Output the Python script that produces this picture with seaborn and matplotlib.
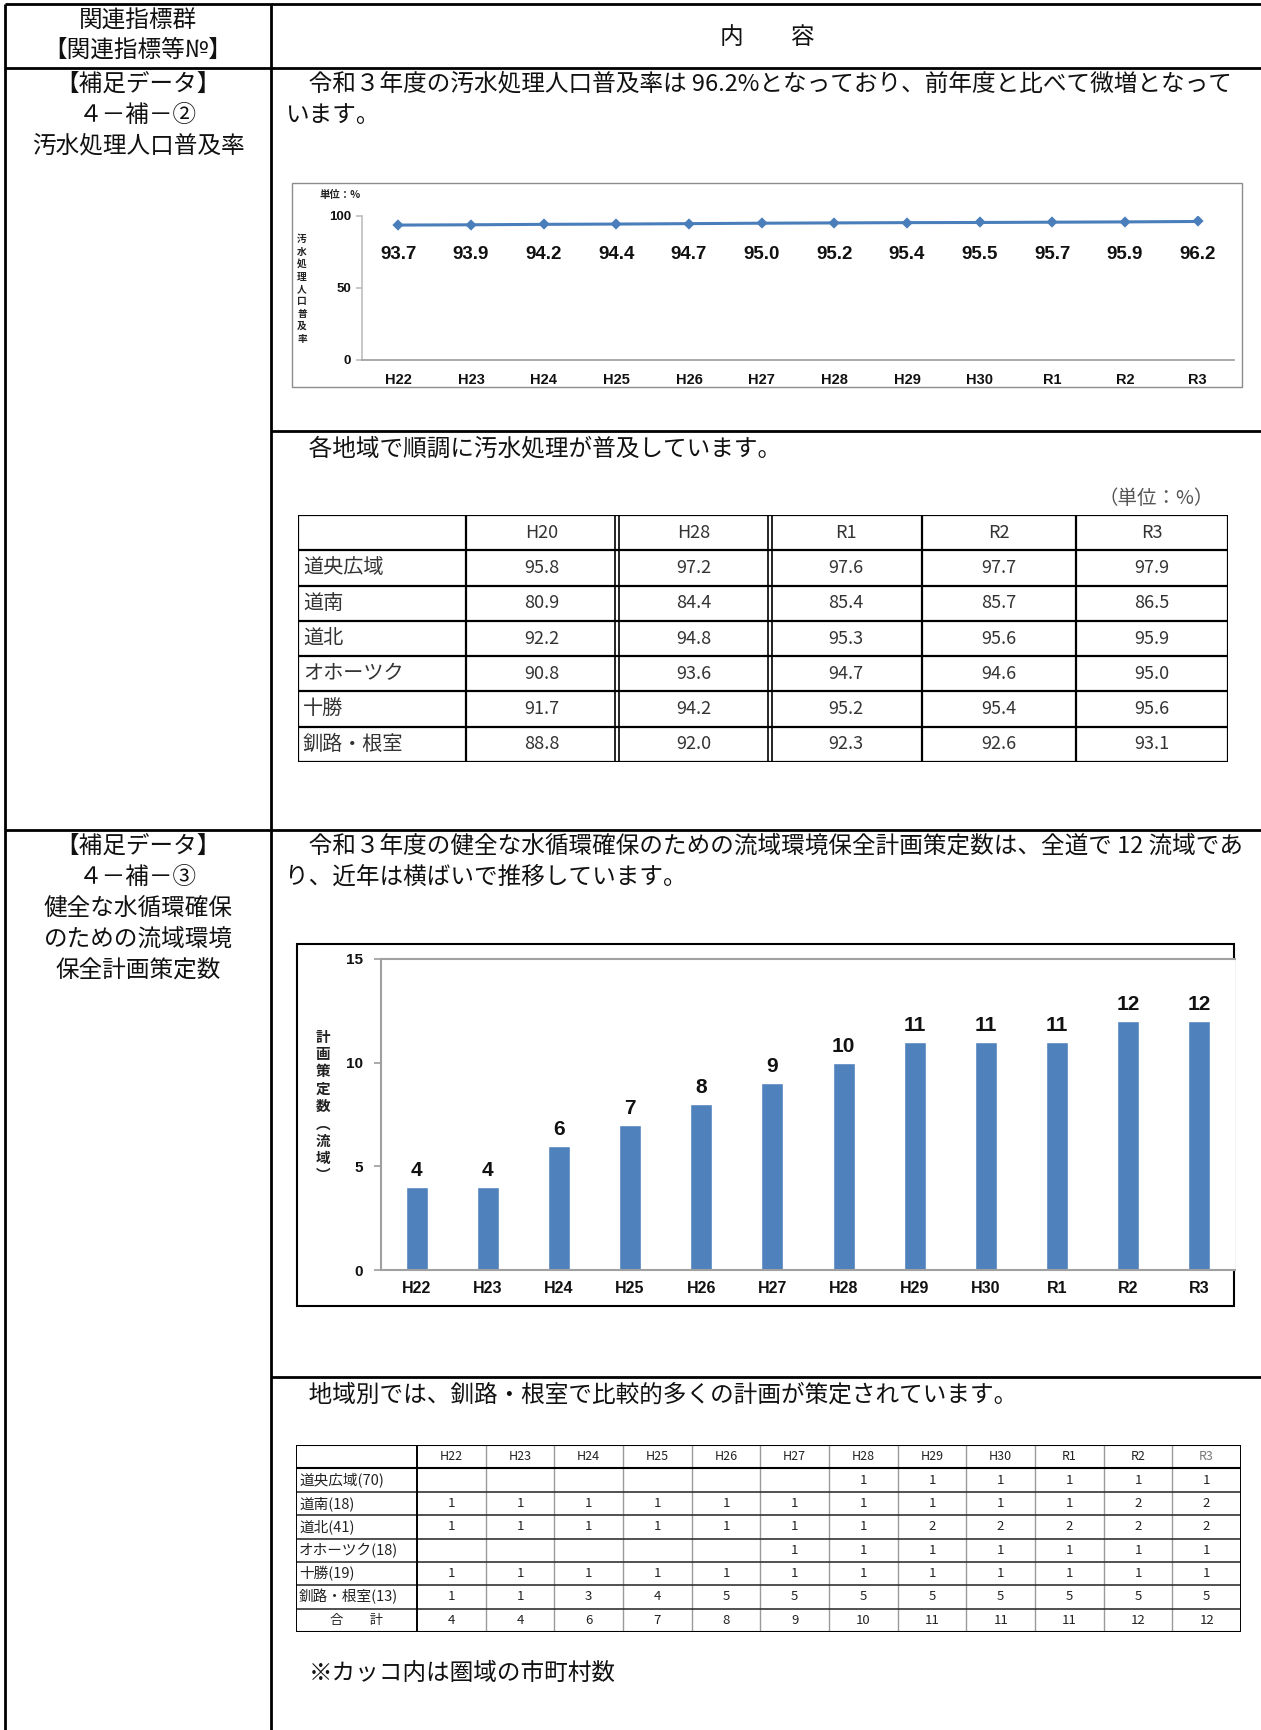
import numpy as np
import seaborn as sns
import matplotlib.pyplot as plt
from matplotlib.patches import Rectangle

# ---- data ----
years = ["H22", "H23", "H24", "H25", "H26", "H27", "H28", "H29", "H30", "R1", "R2", "R3"]
sewage_rate = [93.7, 93.9, 94.2, 94.4, 94.7, 95.0, 95.2, 95.4, 95.5, 95.7, 95.9, 96.2]
plan_counts = [4, 4, 6, 7, 8, 9, 10, 11, 11, 11, 12, 12]

rate_years = ["H20", "H28", "R1", "R2", "R3"]
rate_regions = ["道央広域", "道南", "道北", "オホーツク", "十勝", "釧路・根室"]
rate_values = [
    [95.8, 97.2, 97.6, 97.7, 97.9],
    [80.9, 84.4, 85.4, 85.7, 86.5],
    [92.2, 94.8, 95.3, 95.6, 95.9],
    [90.8, 93.6, 94.7, 94.6, 95.0],
    [91.7, 94.2, 95.2, 95.4, 95.6],
    [88.8, 92.0, 92.3, 92.6, 93.1],
]

plan_regions = ["道央広域(70)", "道南(18)", "道北(41)", "オホーツク(18)", "十勝(19)", "釧路・根室(13)"]
plan_by_region = [
    [None, None, None, None, None, None, 1, 1, 1, 1, 1, 1],
    [1, 1, 1, 1, 1, 1, 1, 1, 1, 1, 2, 2],
    [1, 1, 1, 1, 1, 1, 1, 2, 2, 2, 2, 2],
    [None, None, None, None, None, 1, 1, 1, 1, 1, 1, 1],
    [1, 1, 1, 1, 1, 1, 1, 1, 1, 1, 1, 1],
    [1, 1, 3, 4, 5, 5, 5, 5, 5, 5, 5, 5],
]
plan_total_label = "合　　計"

# ---- page setup ----
sns.set_theme(style="white")
plt.rcParams['font.family'] = ['Noto Sans CJK JP', 'DejaVu Sans']

W, H = 1261, 1730
fig = plt.figure(figsize=(W / 100, H / 100), dpi=100)
bg = fig.add_axes([0, 0, 1, 1])
bg.set_xlim(0, W)
bg.set_ylim(H, 0)
bg.axis('off')


def px_axes(l, t, r, b):
    return fig.add_axes([l / W, 1 - b / H, (r - l) / W, (b - t) / H])


# page frame
lw = 2
bg.hlines([4, 68, 830], 5, W, color='black', lw=lw)
bg.hlines([431, 1377], 271, W, color='black', lw=lw)
bg.vlines([5, 271], 4, H, color='black', lw=lw)

fs = 17
tc = '#111111'
bg.text(138, 21, "関連指標群", ha='center', va='center', fontsize=fs, color=tc)
bg.text(138, 50, "【関連指標等№】", ha='center', va='center', fontsize=fs, color=tc)
bg.text(767, 37, "内　　容", ha='center', va='center', fontsize=fs, color=tc)

for y, s in zip([84, 115, 146], ["【補足データ】", "４－補－②", "汚水処理人口普及率"]):
    bg.text(138, y, s, ha='center', va='center', fontsize=fs, color=tc)
for y, s in zip([846, 877, 908, 939, 971],
                ["【補足データ】", "４－補－③", "健全な水循環確保", "のための流域環境", "保全計画策定数"]):
    bg.text(138, y, s, ha='center', va='center', fontsize=fs, color=tc)

bg.text(285, 84, "　令和３年度の汚水処理人口普及率は 96.2%となっており、前年度と比べて微増となって",
        ha='left', va='center', fontsize=fs, color=tc)
bg.text(285, 115, "います。", ha='left', va='center', fontsize=fs, color=tc)
bg.text(285, 449, "　各地域で順調に汚水処理が普及しています。", ha='left', va='center', fontsize=fs, color=tc)
bg.text(1214, 498, "（単位：%）", ha='right', va='center', fontsize=14, color='#555555')
bg.text(285, 846, "　令和３年度の健全な水循環確保のための流域環境保全計画策定数は、全道で 12 流域であ",
        ha='left', va='center', fontsize=fs, color=tc)
bg.text(285, 877, "り、近年は横ばいで推移しています。", ha='left', va='center', fontsize=fs, color=tc)
bg.text(285, 1395, "　地域別では、釧路・根室で比較的多くの計画が策定されています。",
        ha='left', va='center', fontsize=fs, color=tc)
bg.text(309, 1673, "※カッコ内は圏域の市町村数", ha='left', va='center', fontsize=fs, color=tc)

blue = '#4F81BD'
num_font = ['Liberation Sans', 'Noto Sans CJK JP']

# ---- line chart ----
bg.add_patch(Rectangle((292, 183), 950, 204, fill=False, edgecolor='#8c8c8c', lw=1))
ax1 = px_axes(362, 216, 1234, 360)
sns.pointplot(x=years, y=sewage_rate, ax=ax1, color='#4A7EBB', markers='D',
              markersize=4, linewidth=2.2, errorbar=None)
ax1.set_xlim(-0.5, len(years) - 0.5)
ax1.set_ylim(0, 100)
ax1.set_yticks([0, 50, 100])
ax1.set_xlabel("")
ax1.set_ylabel("")
for i, v in enumerate(sewage_rate):
    ax1.text(i, 73, f"{v:.1f}", ha='center', va='center', fontsize=13.5,
             fontweight='bold', family=num_font, color='#111111')
for s in ['top', 'right']:
    ax1.spines[s].set_visible(False)
ax1.spines['left'].set_color('#c0c0c0')
ax1.spines['bottom'].set_color('#a0a0a0')
ax1.tick_params(axis='y', left=True, length=4, color='#c0c0c0', labelsize=9.5, pad=4)
ax1.tick_params(axis='x', length=0, labelsize=10.5, pad=9)
for lab in ax1.get_xticklabels() + ax1.get_yticklabels():
    lab.set_fontweight('bold')
    lab.set_family(num_font)
    lab.set_color('#111111')
bg.text(320, 195, "単位：%", ha='left', va='center', fontsize=7.5, fontweight='bold', color='#222222')
bg.text(302, 289, "\n".join("汚水処理人口普及率"), ha='center', va='center', fontsize=7,
        fontweight='bold', linespacing=1.3, color='#222222')

# ---- table 1 ----
t1 = px_axes(298, 515, 1228, 762)
t1.axis('off')
t1_edges = np.array([0, 168, 319, 472, 624, 778, 930])
n1 = len(rate_regions) + 1
t1.set_xlim(0, t1_edges[-1])
t1.set_ylim(n1, 0)
t1.hlines(range(n1 + 1), 0, t1_edges[-1], color='black', lw=1.6)
t1.vlines([t1_edges[0], t1_edges[1], t1_edges[4], t1_edges[5], t1_edges[6]], 0, n1, color='black', lw=1.6)
for e in [t1_edges[2], t1_edges[3]]:
    t1.vlines([e - 2, e + 2], 0, n1, color='black', lw=1.2)
centers1 = (t1_edges[1:-1] + t1_edges[2:]) / 2
for j, yr in enumerate(rate_years):
    t1.text(centers1[j], 0.5, yr, ha='center', va='center', fontsize=13, color='#333333')
for i, reg in enumerate(rate_regions):
    t1.text(5, i + 1.5, reg, ha='left', va='center', fontsize=14.5, color='#333333')
    for j, v in enumerate(rate_values[i]):
        t1.text(centers1[j], i + 1.5, f"{v:.1f}", ha='center', va='center', fontsize=13, color='#333333')

# ---- bar chart ----
bg.add_patch(Rectangle((297, 944), 937, 362, fill=False, edgecolor='black', lw=1.5))
ax2 = px_axes(381, 959, 1235, 1270)
sns.barplot(x=years, y=plan_counts, ax=ax2, color=blue, width=0.31, saturation=1, errorbar=None)
ax2.bar_label(ax2.containers[0], fontsize=15, fontweight='bold', padding=5,
              family=num_font, color='#111111')
ax2.set_ylim(0, 15)
ax2.set_yticks([0, 5, 10, 15])
ax2.set_xlabel("")
ax2.set_ylabel("")
ax2.spines['right'].set_visible(False)
for s in ['top', 'left', 'bottom']:
    ax2.spines[s].set_color('#a0a0a0')
    ax2.spines[s].set_linewidth(1.5)
ax2.tick_params(axis='y', left=True, length=5, color='#a0a0a0', labelsize=11, pad=8)
ax2.tick_params(axis='x', length=0, labelsize=11.5, pad=8)
for lab in ax2.get_xticklabels() + ax2.get_yticklabels():
    lab.set_fontweight('bold')
    lab.set_family(num_font)
    lab.set_color('#111111')
bg.text(323, 1106, "\n".join("計画策定数︵流域︶"), ha='center', va='center', fontsize=10.5,
        fontweight='bold', linespacing=1.1, color='#222222')

# ---- table 2 ----
t2 = px_axes(296, 1445, 1241, 1632)
t2.axis('off')
t2_edges = np.concatenate([[0], np.linspace(121, 945, len(years) + 1)])
n2 = len(plan_regions) + 2
t2.set_xlim(0, t2_edges[-1])
t2.set_ylim(n2, 0)
t2.vlines(t2_edges[2:-1], 0, n2, color='#9a9a9a', lw=1.0)
t2.hlines(range(2, n2), 0, t2_edges[-1], color='#333333', lw=1.2)
t2.hlines([0, 1, n2], 0, t2_edges[-1], color='black', lw=1.5)
t2.vlines([t2_edges[0], t2_edges[1], t2_edges[-1]], 0, n2, color='black', lw=1.4)
centers2 = (t2_edges[1:-1] + t2_edges[2:]) / 2
for j, yr in enumerate(years):
    t2.text(centers2[j], 0.5, yr, ha='center', va='center', fontsize=9,
            color='#777777' if yr == "R3" else '#222222')
for i, reg in enumerate(plan_regions):
    t2.text(3, i + 1.5, reg, ha='left', va='center', fontsize=10.5, color='#222222')
    for j, v in enumerate(plan_by_region[i]):
        if v is not None:
            t2.text(centers2[j], i + 1.5, str(v), ha='center', va='center', fontsize=9.5, color='#222222')
t2.text(t2_edges[1] / 2, n2 - 0.5, plan_total_label, ha='center', va='center', fontsize=9.5, color='#222222')
for j, v in enumerate(plan_counts):
    t2.text(centers2[j], n2 - 0.5, str(v), ha='center', va='center', fontsize=9.5, color='#222222')

fig.savefig("out.png", dpi=100, facecolor='white')
